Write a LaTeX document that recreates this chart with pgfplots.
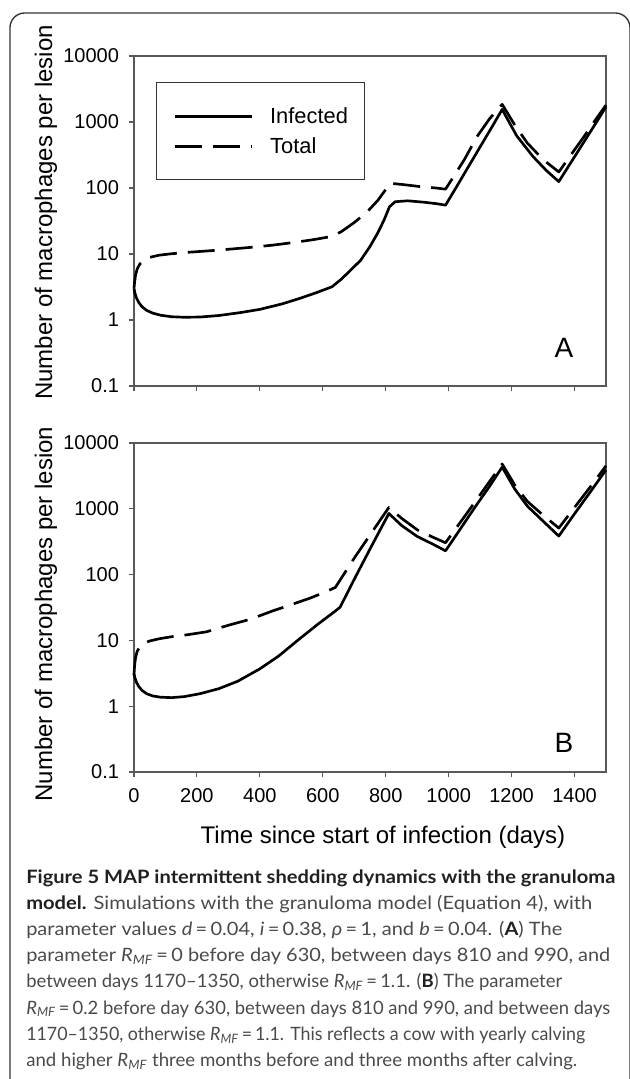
\documentclass[border=0pt]{standalone}
\usepackage{fontspec}
\usepackage{graphicx}
\setmainfont{Liberation Sans}
\newfontfamily\capfont{Lato}
\usepackage{pgfplots}
\pgfplotsset{compat=1.18}

\definecolor{axgray}{HTML}{595959}
\definecolor{capgray}{HTML}{4A4A4A}
\definecolor{capdark}{HTML}{231F20}

\newcommand{\rmf}{\textit{R}\textsubscript{\textit{MF}}}
\newcommand{\bd}[1]{{\bfseries\color{capdark}#1}}
% one caption line, stretched to the width it has in the reference
\newcommand{\capline}[3]{\node at (19.5pt,-#1pt) {\resizebox{#2pt}{\height}{#3}};}

\pgfplotsset{
  granpanel/.style={
    scale only axis, width=354pt,
    xmin=0, xmax=1500, ymin=0.1, ymax=10000,
    xtick={0,200,...,1400},
    ytick={0.1,1,10,100,1000,10000},
    yticklabels={0.1,1,10,100,1000,10000},
    yminorticks=false,
    tick align=outside, tick pos=left,
    major tick length=3.75pt,
    axis line style={draw=axgray, line width=0.8pt},
    tick style={draw=axgray, line width=0.8pt},
    tick label style={font=\fontsize{15}{17}\selectfont},
    yticklabel style={xshift=-4pt},
    xticklabel style={yshift=-5pt},
    ylabel={Number of macrophages per lesion},
    ylabel style={anchor=center, font=\fontsize{18}{20}\selectfont},
    clip=false,
  },
}

\begin{document}
\begin{tikzpicture}
\useasboundingbox (0,0) rectangle (471.75pt,-809.25pt);
\draw[black!80, line width=1pt, rounded corners=11pt]
  (7.5pt,-840pt) -- (7.5pt,-9.75pt) -- (472.5pt,-9.75pt) -- (472.5pt,-840pt);

% panel A
\begin{semilogyaxis}[granpanel,
  at={(100.5pt,-289.5pt)}, anchor=south west, height=247.5pt,
  xticklabels={,,,,,,,},
  ylabel style={at={(axis description cs:-0.1864,0.526)}},
  legend style={at={(axis description cs:0.0466,0.92)}, anchor=north west,
    draw=black!80, line width=0.75pt, inner xsep=12.75pt, inner ysep=18.5pt,
    row sep=9pt, font=\fontsize{16.4}{18}\selectfont, nodes={inner sep=0pt}},
  legend cell align=left,
  legend image code/.code={\draw[#1] (0pt,0pt) -- (57.75pt,0pt); \path (70.5pt,0pt);},
]
\addplot[black, line width=2pt, line join=round] table {
x y
0 3.0
3 2.55
8 2.15
15 1.85
25 1.6
40 1.4
60 1.27
85 1.18
120 1.12
160 1.1
210 1.11
270 1.17
340 1.3
400 1.45
470 1.75
530 2.15
580 2.6
630 3.2
660 4.2
690 5.8
720 8
750 13
775 21
795 33
812 52
830 62
870 64
920 61
960 58
990 55
1020 95
1060 200
1100 420
1140 880
1170 1550
1216 620
1268 300
1310 185
1350 125
1390 250
1430 500
1470 1000
1500 1700
};
\addlegendentry{Infected}
\addplot[black, line width=2pt, line join=round, dash pattern=on 20.25pt off 8.25pt] table {
x y
0 3.0
2 3.8
5 4.8
10 5.9
18 7.0
30 8.0
50 8.9
80 9.6
120 10.1
170 10.6
230 11.1
300 11.8
370 12.6
440 13.6
510 15
570 16.5
630 18.5
660 22
700 30
740 43
775 65
800 95
815 118
860 112
910 105
960 100
990 96
1010 135
1050 270
1090 600
1130 1120
1170 1850
1210 900
1250 480
1300 270
1350 175
1390 325
1430 600
1470 1140
1500 1800
};
\addlegendentry{Total}
\node[font=\fontsize{21}{24}\selectfont] at (rel axis cs:0.911,0.115) {A};
\end{semilogyaxis}

% panel B
\begin{semilogyaxis}[granpanel,
  at={(100.5pt,-579pt)}, anchor=south west, height=246.75pt,
  xticklabels={0,200,400,600,800,1000,1200,1400},
  ylabel style={at={(axis description cs:-0.1864,0.48)}},
  xlabel={Time since start of infection (days)},
  xlabel style={at={(axis description cs:0.5275,-0.1976)}, anchor=center,
    font=\fontsize{18}{20}\selectfont},
]
\addplot[black, line width=2pt, line join=round] table {
x y
0 3.1
3 2.7
8 2.3
15 2.0
25 1.75
40 1.55
60 1.43
85 1.37
120 1.35
160 1.4
210 1.55
270 1.85
330 2.4
400 3.7
460 5.8
520 10
580 17
640 28
655 32
700 85
750 245
810 850
850 560
900 380
950 290
990 230
1030 440
1080 1000
1130 2200
1170 4300
1210 2000
1250 1100
1300 650
1350 385
1400 840
1450 1800
1500 3900
};
\addplot[black, line width=2pt, line join=round, dash pattern=on 20.25pt off 8.25pt] table {
x y
0 3.0
2 4.2
5 5.5
10 6.8
18 8.0
30 9.0
50 9.8
80 10.6
120 11.4
170 12.2
230 13.5
300 17
370 21
440 28
500 35
560 44
610 55
640 64
700 178
750 400
810 1050
850 720
900 480
950 370
990 305
1030 560
1080 1200
1130 2600
1170 4800
1210 2300
1250 1300
1300 800
1350 510
1400 1050
1450 2150
1500 4500
};
\node[font=\fontsize{21}{24}\selectfont] at (rel axis cs:0.911,0.088) {B};
\end{semilogyaxis}

% caption
\begin{scope}[every node/.style={anchor=base west, inner sep=0pt,
    font=\capfont\fontsize{13.8}{20}\selectfont, text=capgray}]
\capline{662.5}{441.75}{\bd{Figure 5 MAP intermittent shedding dynamics with the granuloma}}
\capline{682}{424.5}{\bd{model.} Simulations with the granuloma model (Equation 4), with}
\capline{701.5}{402}{parameter values \textit{d}\,=\,0.04, \textit{i}\,=\,0.38, \textit{ρ}\,=\,1, and \textit{b}\,=\,0.04. (\bd{A}) The}
\capline{721}{438}{parameter \rmf\,=\,0 before day 630, between days 810 and 990, and}
\capline{740.5}{402}{between days 1170–1350, otherwise \rmf\,=\,1.1. (\bd{B}) The parameter}
\capline{760.5}{438}{\rmf\,=\,0.2 before day 630, between days 810 and 990, and between days}
\capline{780.5}{419.25}{1170–1350, otherwise \rmf\,=\,1.1. This reflects a cow with yearly calving}
\capline{800}{413.25}{and higher \rmf{} three months before and three months after calving.}
\end{scope}
\end{tikzpicture}
\end{document}
